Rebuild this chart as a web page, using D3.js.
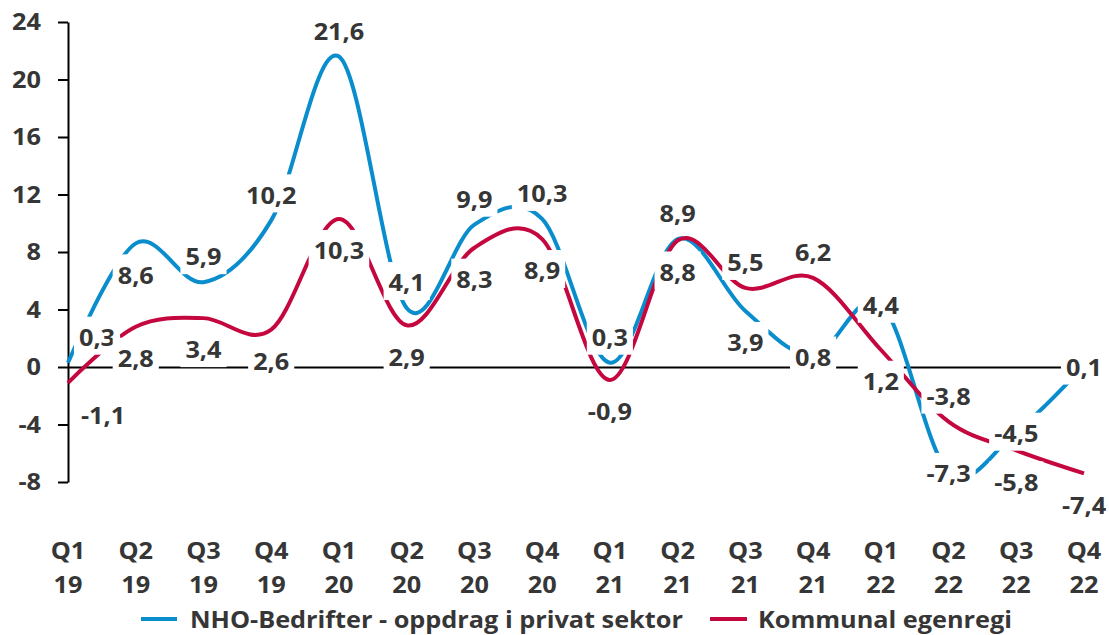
<!DOCTYPE html>
<html><head><meta charset="utf-8">
<script src="https://cdn.jsdelivr.net/npm/d3@7"></script>
<style>
html,body{margin:0;padding:0;background:#fff;}
svg text{font-family:"Open Sans","Noto Sans",sans-serif;font-weight:700;fill:#363636;}
</style></head><body>
<svg id="chart" width="1109" height="635"></svg>
<script>
// ---- data ----
const quarters = ["Q1","Q2","Q3","Q4","Q1","Q2","Q3","Q4","Q1","Q2","Q3","Q4","Q1","Q2","Q3","Q4"];
const years    = ["19","19","19","19","20","20","20","20","21","21","21","21","22","22","22","22"];
const nhoValues      = [0.3, 8.6, 5.9, 10.2, 21.6, 4.1, 9.9, 10.3, 0.3, 8.9, 3.9, 0.8, 4.4, -7.3, -4.5, 0.1];
const kommunalValues = [-1.1, 2.8, 3.4, 2.6, 10.3, 2.9, 8.3, 8.9, -0.9, 8.8, 5.5, 6.2, 1.2, -3.8, -5.8, -7.4];
const yTicks = [-8, -4, 0, 4, 8, 12, 16, 20, 24];
const seriesNames = ["NHO-Bedrifter - oppdrag i privat sektor", "Kommunal egenregi"];

// ---- layout / style ----
const seriesColors = ["#0a8dcd", "#c4073f"];
const nhoLabelPlacement = ["aboveRight","below","above","above","above","above","above","above","above","above","below","center","center","center","center","center"];
const kommunalLabelPlacement = ["belowRight","below","below","below","below","below","below","below","below","below","above","above","below","above","below","below"];
const placementOffsets = {
  above: {dx: 0, dy: -25}, below: {dx: 0, dy: 32}, center: {dx: 0, dy: 2},
  aboveRight: {dx: 29, dy: -25}, belowRight: {dx: 35, dy: 33}
};
const FS = 23, SX = 1.1, CAP = 8.3;

const categories = quarters.map((q, i) => q + " " + years[i]);
const svg = d3.select("#chart");

const x = d3.scalePoint().domain(categories).range([68, 1084]);
const y = d3.scaleLinear().domain([-8, 24]).range([482, 22]);

const series = [
  {name: seriesNames[0], values: nhoValues, color: seriesColors[0], place: nhoLabelPlacement},
  {name: seriesNames[1], values: kommunalValues, color: seriesColors[1], place: kommunalLabelPlacement}
];

// stretched text helper
function sText(parent, tx, ty, str, anchor) {
  const g = parent.append("g").attr("transform", `translate(${tx},${ty}) scale(${SX},1)`);
  const t = g.append("text").attr("x", 0).attr("y", 0).attr("text-anchor", anchor || "middle")
    .style("font-size", FS + "px").text(str);
  return {g, t};
}

// y axis
const yAxis = svg.append("g").attr("transform", `translate(${x(categories[0])},0)`)
  .call(d3.axisLeft(y).tickValues(yTicks).tickSize(10).tickSizeOuter(0).tickFormat(d => String(d)));
yAxis.selectAll("path,line").attr("stroke", "#000").attr("stroke-width", 2);
yAxis.selectAll("text").remove();
yTicks.forEach(v => sText(svg, 41, y(v) + CAP, String(v), "end"));

// zero line (category axis)
const xAxis = svg.append("g").attr("transform", `translate(0,${y(0)})`)
  .call(d3.axisBottom(x).tickSize(0).tickSizeOuter(0).tickFormat(""));
xAxis.selectAll("path").attr("stroke", "#000").attr("stroke-width", 2);

// category labels
categories.forEach((c, i) => {
  sText(svg, x(c), 558.5, quarters[i]);
  sText(svg, x(c), 592.5, years[i]);
});

// lines
const line = d3.line().x((d, i) => x(categories[i])).y(d => y(d)).curve(d3.curveCardinal.tension(0));
series.forEach(s => {
  svg.append("path").datum(s.values).attr("d", line)
    .attr("fill", "none").attr("stroke", s.color).attr("stroke-width", 4)
    .attr("stroke-linecap", "butt").attr("stroke-linejoin", "round");
});

// data labels
const fmt = v => v.toFixed(1).replace(".", ",");
series.forEach(s => {
  s.values.forEach((v, i) => {
    const off = placementOffsets[s.place[i]];
    const cx = x(categories[i]) + off.dx, cy = y(v) + off.dy;
    const g = svg.append("g").attr("transform", `translate(${cx},${cy})`);
    const rect = g.append("rect").attr("fill", "#fff");
    const {t} = sText(g, 0, CAP, fmt(v));
    const w = t.node().getComputedTextLength() * SX + 10;
    rect.attr("x", -w / 2).attr("y", -21).attr("width", w).attr("height", 38);
  });
});

// legend
const legendItems = [{x0: 141, x1: 177, tx: 190}, {x0: 710, x1: 747, tx: 758}];
series.forEach((s, i) => {
  const L = legendItems[i];
  svg.append("line").attr("x1", L.x0).attr("x2", L.x1).attr("y1", 619).attr("y2", 619)
    .attr("stroke", s.color).attr("stroke-width", 4);
  sText(svg, L.tx, 628, s.name, "start");
});
</script>
</body></html>
